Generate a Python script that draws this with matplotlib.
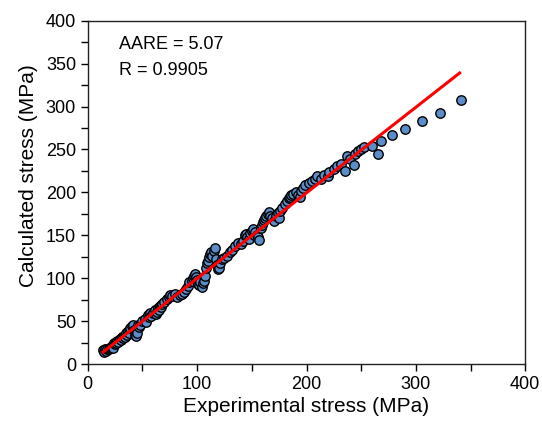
import numpy as np
import matplotlib
matplotlib.use('Agg')
import matplotlib.pyplot as plt
from matplotlib.ticker import MultipleLocator

plt.rcParams['font.family'] = ['Liberation Sans', 'DejaVu Sans']

# Experimental vs calculated stress (MPa)
exp_stress = [14, 15, 16, 17, 18, 19, 20, 21, 22, 23, 24, 25, 26, 27, 28, 29, 30, 31, 32, 33,
              34, 35, 36, 37, 38, 39, 40, 41, 42, 43, 44, 45, 46, 47, 48, 50, 52, 53, 55, 56,
              57, 58, 60, 61, 62, 63, 64, 65, 66, 67, 68, 70, 72, 74, 75, 77, 80, 82, 84, 86,
              88, 90, 92, 93, 95, 96, 97, 98, 99, 100, 101, 102, 103, 104, 105, 106, 107, 108,
              109, 110, 111, 112, 113, 114, 115, 116, 117, 118, 119, 120, 121, 123, 125, 127,
              130, 132, 135, 137, 140, 142, 144, 145, 146, 147, 148, 150, 151, 152, 153, 155,
              156, 157, 158, 159, 160, 161, 162, 163, 165, 166, 167, 168, 170, 172, 174, 175,
              176, 178, 180, 182, 184, 185, 186, 188, 190, 192, 194, 195, 197, 199, 202, 205,
              208, 210, 213, 216, 220, 221, 225, 228, 232, 235, 237, 240, 243, 244, 247, 250,
              253, 260, 265, 268, 278, 290, 306, 322, 341]
calc_stress = [16, 14, 17, 15, 18, 17, 19, 20, 21, 19, 24, 23, 25, 27, 26, 29, 28, 31, 30, 33,
               31, 36, 34, 38, 36, 42, 44, 45, 40, 34, 33, 36, 46, 43, 45, 50, 52, 49, 57, 55,
               59, 56, 60, 63, 58, 61, 65, 63, 68, 66, 70, 72, 76, 78, 80, 79, 82, 78, 80, 82,
               84, 87, 91, 95, 97, 100, 103, 105, 101, 98, 93, 92, 95, 90, 94, 97, 102, 112,
               118, 120, 125, 128, 130, 126, 132, 135, 122, 115, 111, 112, 118, 122, 124, 126,
               130, 133, 138, 141, 140, 143, 150, 152, 148, 146, 153, 155, 157, 150, 154, 150,
               148, 145, 158, 162, 165, 168, 170, 172, 175, 177, 173, 170, 167, 172, 176, 170,
               178, 182, 186, 190, 193, 195, 197, 198, 200, 197, 195, 202, 205, 208, 211, 213,
               216, 219, 216, 220, 219, 224, 227, 231, 233, 225, 242, 239, 232, 245, 248, 251,
               253, 254, 245, 260, 267, 274, 283, 293, 307]

# reference line (drawn in red)
line_x = [14, 340]
line_y = [14, 339]

fig = plt.figure(figsize=(5.42, 4.26), dpi=100)
ax = fig.add_axes([0.162, 0.1455, 0.807, 0.806])

ax.scatter(exp_stress, calc_stress, s=46, facecolor='#5b8dc9', edgecolor='black',
           linewidth=1.0, zorder=2)
ax.plot(line_x, line_y, color='red', linewidth=2.2, zorder=3)

ax.set_xlim(0, 400)
ax.set_ylim(0, 400)
ax.xaxis.set_major_locator(MultipleLocator(100))
ax.xaxis.set_minor_locator(MultipleLocator(50))
ax.yaxis.set_major_locator(MultipleLocator(50))
ax.yaxis.set_minor_locator(MultipleLocator(25))
ax.tick_params(which='both', direction='out', width=1.0, labelsize=13,
               top=False, right=False)
ax.tick_params(which='major', length=5)
ax.tick_params(which='minor', length=5)
for sp in ax.spines.values():
    sp.set_linewidth(1.0)
    sp.set_color('#222222')

ax.set_xlabel('Experimental stress (MPa)', fontsize=15, labelpad=3)
ax.set_ylabel('Calculated stress (MPa)', fontsize=15)
ax.yaxis.set_label_coords(-0.113, 0.55)

ax.text(0.071, 0.93, 'AARE = 5.07', transform=ax.transAxes, fontsize=13, va='center')
ax.text(0.071, 0.855, 'R = 0.9905', transform=ax.transAxes, fontsize=13, va='center')

fig.savefig('out.png', dpi=100)
